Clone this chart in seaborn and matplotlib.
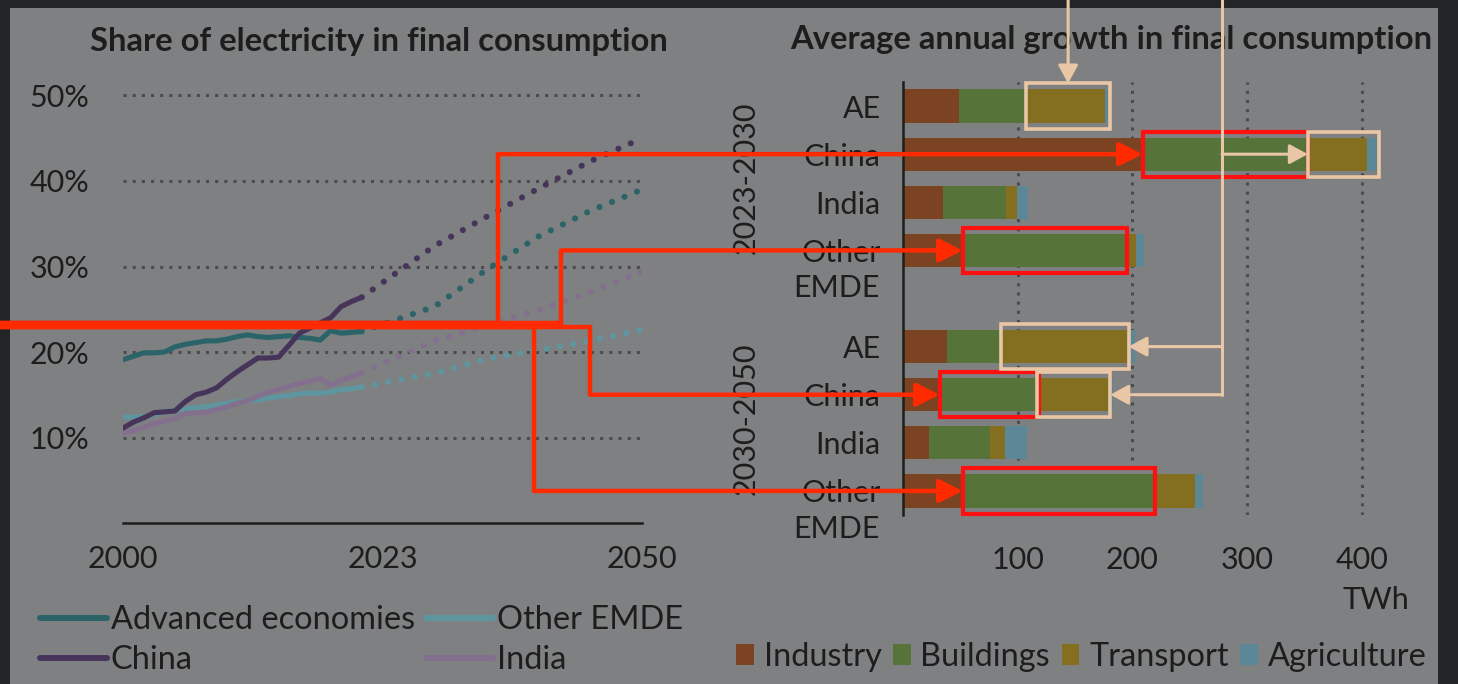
import matplotlib
matplotlib.use("Agg")
import matplotlib.pyplot as plt
import matplotlib.transforms as mtransforms
from matplotlib.patches import Rectangle, Patch
from matplotlib.lines import Line2D
import pandas as pd
import seaborn as sns

# ---- left panel: share of electricity in final consumption (%)
hist_years = list(range(2000, 2024))
ae_hist = [19.1, 19.5, 19.9, 19.9, 20.0, 20.6, 20.9, 21.1, 21.3, 21.3, 21.5, 21.8,
           22.0, 21.8, 21.7, 21.8, 21.9, 21.7, 21.6, 21.4, 22.5, 22.2, 22.3, 22.4]
china_hist = [11.1, 11.8, 12.3, 12.9, 13.0, 13.1, 14.2, 15.0, 15.3, 15.8, 16.8, 17.7,
              18.5, 19.3, 19.3, 19.4, 20.8, 22.2, 22.8, 23.4, 24.0, 25.3, 25.9, 26.4]
india_hist = [10.5, 10.8, 11.2, 11.6, 11.9, 12.2, 12.8, 12.9, 12.9, 13.3, 13.6, 14.0,
              14.3, 14.8, 15.3, 15.6, 16.0, 16.3, 16.6, 16.9, 16.1, 16.7, 17.1, 17.6]
emde_hist = [12.4, 12.4, 12.4, 12.7, 13.0, 13.2, 13.3, 13.5, 13.6, 13.8, 14.0, 14.2,
             14.3, 14.4, 14.6, 14.8, 14.9, 15.1, 15.2, 15.2, 15.3, 15.6, 15.7, 15.9]
proj_years = [2023, 2030, 2035, 2040, 2045, 2050]
ae_proj = [22.4, 25.3, 29.6, 33.5, 36.5, 39.0]
china_proj = [26.4, 32.4, 35.8, 39.1, 42.3, 45.0]
india_proj = [17.6, 21.3, 23.1, 24.9, 27.0, 29.4]
emde_proj = [15.9, 17.5, 19.2, 20.2, 21.3, 22.6]
share_ticks = [10, 20, 30, 40, 50]
year_ticks = [2000, 2025, 2050]
year_labels = ["2000", "2023", "2050"]

# ---- right panel: average annual growth in final consumption (TWh)
regions = ["AE", "China", "India", "Other EMDE"]
periods = ["2023-2030", "2030-2050"]
industry = {"2023-2030": [49, 209, 35, 52], "2030-2050": [38, 32, 23, 52]}
buildings = {"2023-2030": [60, 144, 55, 143], "2030-2050": [49, 87, 53, 168]}
transport = {"2023-2030": [67, 52, 9, 8], "2030-2050": [108, 60, 13, 35]}
agriculture = {"2023-2030": [3, 8, 10, 7], "2030-2050": [7, 4, 19, 7]}
twh_ticks = [100, 200, 300, 400]

W, H = 1458, 684
DARK = "#232427"
PANEL = "#7f8081"
TXT = "#1d1d1d"
GRID = "#4b4b4b"
C_AE, C_CHINA, C_INDIA, C_EMDE = "#2a6469", "#47345b", "#83708f", "#5e96a0"
C_IND, C_BLD, C_TRN, C_AGR = "#7b4321", "#56733a", "#846e1f", "#5c8796"
RED_LINE, RED_BOX, BEIGE = "#ff2a00", "#ff1010", "#e9c7a6"

sns.set_style("white")
plt.rcParams["font.family"] = ["Lato", "DejaVu Sans"]

fig = plt.figure(figsize=(W / 100, H / 100), dpi=100, facecolor=DARK)
fig.patches.append(Rectangle((10 / W, 0), 1428 / W, 676 / H, transform=fig.transFigure,
                             facecolor=PANEL, edgecolor="none", zorder=-10))


def px_axes(left, top, right, bottom):
    return fig.add_axes([left / W, 1 - bottom / H, (right - left) / W, (bottom - top) / H])


# ---------------- left chart
ax1 = px_axes(123, 523 - 52 * 8.55, 642, 523)
ax1.set_facecolor("none")
series = [(ae_hist, ae_proj, C_AE), (emde_hist, emde_proj, C_EMDE),
          (india_hist, india_proj, C_INDIA), (china_hist, china_proj, C_CHINA)]
for hist, proj, col in series:
    sns.lineplot(x=hist_years, y=hist, color=col, lw=3.7, ax=ax1, solid_capstyle="round")
    sns.lineplot(x=proj_years, y=proj, color=col, lw=4.4, ax=ax1,
                 linestyle=(0, (0.01, 2.2)), dash_capstyle="round")
ax1.set_xlim(2000, 2050)
ax1.set_ylim(0, 52)
ax1.set_yticks(share_ticks)
ax1.set_yticklabels([f"{v}%" for v in share_ticks])
ax1.set_xticks(year_ticks)
ax1.set_xticklabels(year_labels)
ax1.yaxis.grid(True, linestyle=(0, (1, 2)), color=GRID, lw=2.2)
ax1.set_axisbelow(True)
ax1.tick_params(axis="y", length=0, pad=24, labelsize=22, labelcolor=TXT)
ax1.tick_params(axis="x", length=0, pad=16, labelsize=22, labelcolor=TXT)
for s in ["top", "right", "left"]:
    ax1.spines[s].set_visible(False)
ax1.spines["bottom"].set_color(TXT)
ax1.spines["bottom"].set_linewidth(1.8)
ax1.set(xlabel="", ylabel="")

# ---------------- right chart
rows = []
for p in periods:
    for i, r in enumerate(regions):
        rows.append({"key": f"{r}|{p}", "ind": industry[p][i], "bld": buildings[p][i],
                     "trn": transport[p][i], "agr": agriculture[p][i]})
df = pd.DataFrame(rows)
df["c_bld"] = df["ind"] + df["bld"]
df["c_trn"] = df["c_bld"] + df["trn"]
df["c_agr"] = df["c_trn"] + df["agr"]
order = [f"{r}|{periods[0]}" for r in regions] + ["gap"] + [f"{r}|{periods[1]}" for r in regions]

ax2 = px_axes(903, 82, 903 + 440 * 1.1467, 515)
ax2.set_facecolor("none")
for col, c in [("c_agr", C_AGR), ("c_trn", C_TRN), ("c_bld", C_BLD), ("ind", C_IND)]:
    sns.barplot(data=df, x=col, y="key", order=order, orient="h", color=c, saturation=1,
                width=0.69, errorbar=None, linewidth=0, ax=ax2)
ax2.set_xlim(0, 440)
ax2.set_ylim(8.5, -0.5)
ax2.set_xticks(twh_ticks)
ax2.xaxis.grid(True, linestyle=(0, (1, 2)), color=GRID, lw=2.2)
ax2.set_axisbelow(True)
row_pos = [order.index(k) for k in df["key"]]
ax2.set_yticks(row_pos)
ax2.set_yticklabels([k.split("|")[0].split(" ")[0] for k in df["key"]])
ax2.tick_params(axis="y", length=0, pad=16, labelsize=22, labelcolor=TXT)
ax2.tick_params(axis="x", length=0, pad=22, labelsize=22, labelcolor=TXT)
for s in ["top", "right", "bottom"]:
    ax2.spines[s].set_visible(False)
ax2.spines["left"].set_color(TXT)
ax2.spines["left"].set_linewidth(1.8)
ax2.set(xlabel="", ylabel="")
lab_tr = mtransforms.blended_transform_factory(ax2.transAxes, ax2.transData)
for k, pos in zip(df["key"], row_pos):
    if k.startswith("Other EMDE"):
        ax2.text(-0.0455, pos + 0.79, "EMDE", transform=lab_tr, ha="right", va="center",
                 fontsize=22, color=TXT)
for j, p in enumerate(periods):
    ax2.text(-0.311, 1.5 + 5 * j, p, transform=lab_tr, rotation=90, ha="center",
             va="center", fontsize=22, color=TXT)
ax2.text(412, -0.196, "TWh", transform=mtransforms.blended_transform_factory(ax2.transData, ax2.transAxes),
         ha="center", va="center", fontsize=22, color=TXT)

# titles
fig.text(379 / W, 1 - 42 / H, "Share of electricity in final consumption", ha="center", va="center",
         fontsize=23.6, fontweight="bold", color=TXT)
fig.text(1111 / W, 1 - 40 / H, "Average annual growth in final consumption", ha="center", va="center",
         fontsize=23.6, fontweight="bold", color=TXT)

# legends
lh = [Line2D([], [], color=c, lw=4.3) for c in [C_AE, C_CHINA, C_EMDE, C_INDIA]]
fig.legend(lh, ["Advanced economies", "China", "Other EMDE", "India"], ncol=2, loc="upper left",
           bbox_to_anchor=(40 / W, 1 - 605 / H), frameon=False, fontsize=23.4, labelcolor=TXT,
           handlelength=2.05, handletextpad=0.12, columnspacing=0.35, labelspacing=0.32,
           borderpad=0, borderaxespad=0)
ph = [Patch(facecolor=c, edgecolor="none") for c in [C_IND, C_BLD, C_TRN, C_AGR]]
fig.legend(ph, ["Industry", "Buildings", "Transport", "Agriculture"], ncol=4, loc="upper left",
           bbox_to_anchor=(736 / W, 1 - 642 / H), frameon=False, fontsize=23.4, labelcolor=TXT,
           handlelength=0.55, handleheight=0.6, handletextpad=0.3, columnspacing=0.35,
           borderpad=0, borderaxespad=0)

# ---------------- annotation overlay (pixel coordinates)
ax3 = fig.add_axes([0, 0, 1, 1], zorder=10)
ax3.set_xlim(0, W)
ax3.set_ylim(H, 0)
ax3.axis("off")


def to_px(x, y):
    d = ax2.transData.transform((x, y))
    return d[0], H - d[1]


def seg_box(key, seg, padx=2, pady=6):
    r = df[df["key"] == key].iloc[0]
    edges = [0, r["ind"], r["c_bld"], r["c_trn"], r["c_agr"]]
    i0, i1 = seg
    pos = order.index(key)
    x0, y0 = to_px(edges[i0], pos - 0.345)
    x1, y1 = to_px(edges[i1], pos + 0.345)
    return x0 - padx, y0 - pady, x1 + padx, y1 + pady, H - ax2.transData.transform((0, pos))[1]


def draw_box(b, color, lw):
    ax3.add_patch(Rectangle((b[0], b[1]), b[2] - b[0], b[3] - b[1], fill=False,
                            edgecolor=color, lw=lw, joinstyle="miter"))


def arrow_path(pts, color, lw, hl, hw):
    xs, ys = zip(*pts[:-1])
    ax3.plot(xs, ys, color=color, lw=lw, solid_joinstyle="miter", solid_capstyle="butt")
    ax3.annotate("", xy=pts[-1], xytext=pts[-2],
                 arrowprops=dict(arrowstyle=f"-|>,head_length={hl},head_width={hw}",
                                 color=color, lw=lw, shrinkA=0, shrinkB=0, mutation_scale=20))


# red: buildings segments
rb1 = seg_box("China|2023-2030", (1, 2), 0)
rb2 = seg_box("Other EMDE|2023-2030", (1, 2), 0)
rb3 = seg_box("China|2030-2050", (1, 2), 0)
rb4 = seg_box("Other EMDE|2030-2050", (1, 2), 0)
# beige: transport segments
bb1 = seg_box("AE|2023-2030", (2, 4), 2)
bb2 = seg_box("China|2023-2030", (3, 4), 2)
bb2 = (rb1[2], bb2[1], bb2[2], bb2[3], bb2[4])
bb3 = seg_box("AE|2030-2050", (2, 3), 2)
bb4 = seg_box("China|2030-2050", (2, 3), 2)

for b in [rb1, rb2, rb3, rb4]:
    draw_box(b, RED_BOX, 3.0)
for b in [bb1, bb2, bb3, bb4]:
    draw_box(b, BEIGE, 2.6)

arrow_path([(0, 323), (498, 323), (498, rb1[4]), (rb1[0], rb1[4])], RED_LINE, 3.2, 0.7, 0.35)
arrow_path([(0, 323), (561, 323), (561, rb2[4]), (rb2[0], rb2[4])], RED_LINE, 3.2, 0.7, 0.35)
arrow_path([(0, 327), (590, 327), (590, rb3[4]), (rb3[0], rb3[4])], RED_LINE, 3.2, 0.7, 0.35)
arrow_path([(0, 327), (534, 327), (534, rb4[4]), (rb4[0], rb4[4])], RED_LINE, 3.2, 0.7, 0.35)

bx = (bb1[0] + bb1[2]) / 2
arrow_path([(bx, 0), (bx, bb1[1])], BEIGE, 2.2, 0.55, 0.3)
ax3.plot([1222, 1222], [0, bb4[4]], color=BEIGE, lw=2.2)
arrow_path([(1222, bb2[4]), (bb2[0], bb2[4])], BEIGE, 2.2, 0.55, 0.3)
arrow_path([(1222, bb3[4]), (bb3[2], bb3[4])], BEIGE, 2.2, 0.55, 0.3)
arrow_path([(1222, bb4[4]), (bb4[2], bb4[4])], BEIGE, 2.2, 0.55, 0.3)

fig.savefig("out.png", dpi=100, facecolor=DARK)
